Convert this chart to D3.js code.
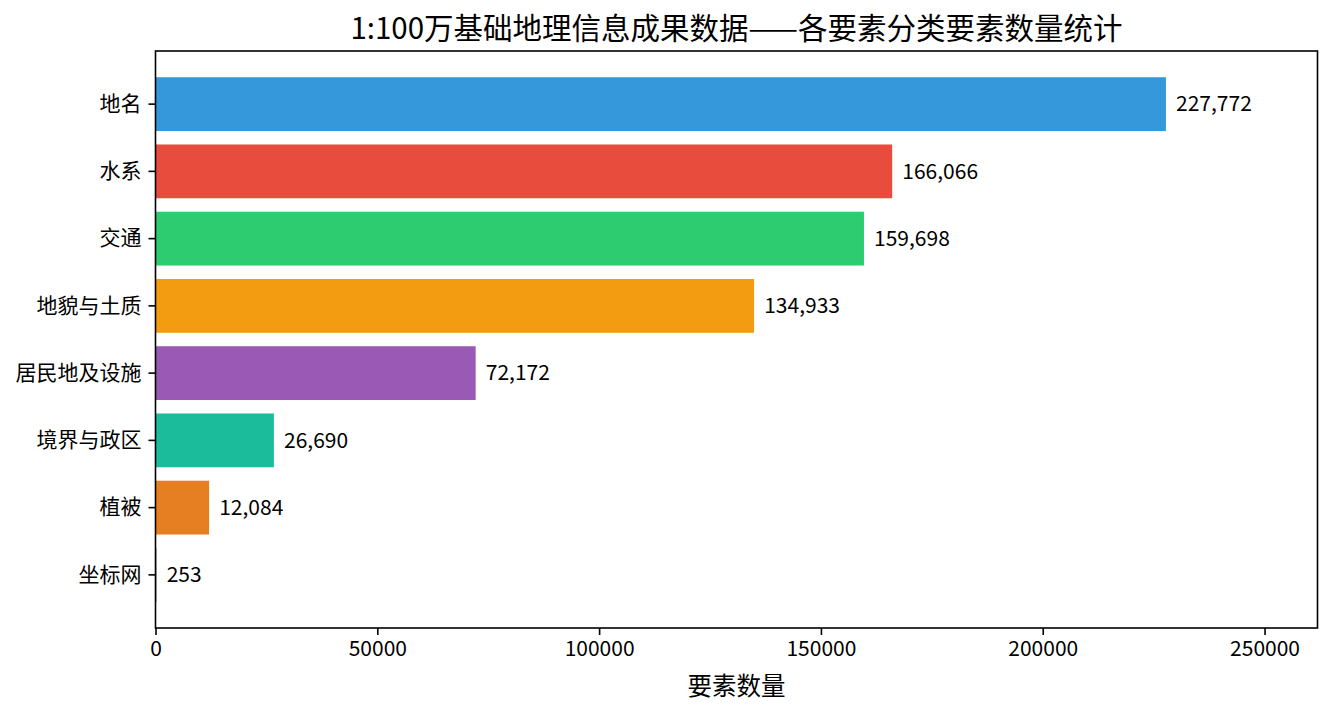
<!DOCTYPE html>
<html>
<head>
<meta charset="utf-8">
<script src="https://cdn.jsdelivr.net/npm/d3@7"></script>
<style>
  body { margin: 0; background: #fff; }
  svg { display: block; font-family: "Noto Sans CJK SC", "Noto Sans", sans-serif; }
</style>
</head>
<body>
<div id="chart"></div>
<script>
// data (top to bottom)
var categories = ["地名", "水系", "交通", "地貌与土质", "居民地及设施", "境界与政区", "植被", "坐标网"];
var counts = [227772, 166066, 159698, 134933, 72172, 26690, 12084, 253];
var colors = ["#3498db", "#e74c3c", "#2ecc71", "#f39c12", "#9b59b6", "#1abc9c", "#e67e22", "#95a5a6"];
var xTicks = [0, 50000, 100000, 150000, 200000, 250000];
var title = "1:100万基础地理信息成果数据——各要素分类要素数量统计";
var xLabel = "要素数量";

var fullwidth = 1333, fullheight = 716;
var margin = {top: 51, right: 15.5, bottom: 88, left: 155.5},
    width = fullwidth - margin.left - margin.right,
    height = fullheight - margin.top - margin.bottom;

var svg = d3.select("#chart")
  .append("svg")
    .attr("width", fullwidth)
    .attr("height", fullheight)
  .append("g")
    .attr("transform", "translate(" + margin.left + "," + margin.top + ")");

var maxVal = d3.max(counts);

var xScale = d3.scaleLinear()
    .domain([0, maxVal * 1.15])
    .range([0, width]);

var yScale = d3.scaleBand()
    .domain(categories)
    .range([0, height])
    .paddingInner(0.2)
    .paddingOuter(0.39);

// bars
svg.selectAll("rect.bar")
  .data(categories)
  .enter()
  .append("rect")
    .attr("class", "bar")
    .attr("x", xScale(0))
    .attr("y", function(d) { return yScale(d); })
    .attr("width", function(d, i) { return xScale(counts[i]) - xScale(0); })
    .attr("height", yScale.bandwidth())
    .style("fill", function(d, i) { return colors[i]; });

// value labels
svg.selectAll("text.val")
  .data(categories)
  .enter()
  .append("text")
    .attr("class", "val")
    .attr("x", function(d, i) { return xScale(counts[i] + maxVal * 0.01); })
    .attr("y", function(d) { return yScale(d) + yScale.bandwidth() / 2; })
    .attr("dy", "0.35em")
    .style("font-size", "21px")
    .style("fill", "#000")
    .text(function(d, i) { return d3.format(",")(counts[i]); });

// axes
var xAxis = d3.axisBottom(xScale)
    .tickValues(xTicks)
    .tickFormat(d3.format("d"))
    .tickSize(7)
    .tickPadding(6);
var gx = svg.append("g")
    .attr("transform", "translate(0," + height + ")")
    .call(xAxis);

var yAxis = d3.axisLeft(yScale)
    .tickSize(7)
    .tickPadding(7);
var gy = svg.append("g").call(yAxis);

[gx, gy].forEach(function(g) {
  g.attr("font-family", null);
  g.select(".domain").remove();
  g.selectAll(".tick line").attr("stroke", "#000").attr("stroke-width", 1.6);
  g.selectAll(".tick text").style("font-size", "21px").style("fill", "#000");
});

// frame (spines)
svg.append("rect")
    .attr("x", 0)
    .attr("y", 0)
    .attr("width", width)
    .attr("height", height)
    .style("fill", "none")
    .style("stroke", "#000")
    .style("stroke-width", 1.6);

// title
svg.append("text")
    .attr("x", width / 2)
    .attr("y", -12)
    .attr("text-anchor", "middle")
    .style("font-size", "29.5px")
    .style("fill", "#000")
    .text(title);

// x label
svg.append("text")
    .attr("x", width / 2)
    .attr("y", height + 67)
    .attr("text-anchor", "middle")
    .style("font-size", "24.5px")
    .style("fill", "#000")
    .text(xLabel);
</script>
</body>
</html>
